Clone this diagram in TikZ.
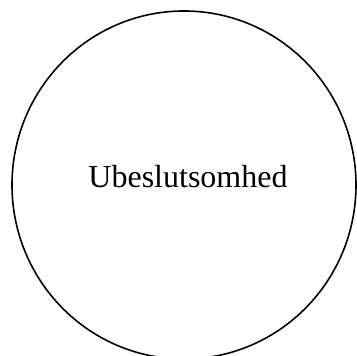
\documentclass[tikz,border=0pt]{standalone}
\usepackage{fontspec}
\setmainfont{Liberation Serif}
\begin{document}
\begin{tikzpicture}[x=1pt,y=1pt,
  ring/.style={draw=black,line width=1.6pt},
  label/.style={font=\fontsize{32}{36}\selectfont,inner sep=0pt,anchor=base}]
\useasboundingbox (0,0) rectangle (357,356);
\begin{scope}
\clip (0,0) rectangle (357,356);
\draw[ring] (184,{356-185}) ellipse [x radius=172, y radius=174];
\end{scope}
\node[label] (t) at (188,{356-188}) {Ubeslutsomhed};
\end{tikzpicture}
\end{document}
